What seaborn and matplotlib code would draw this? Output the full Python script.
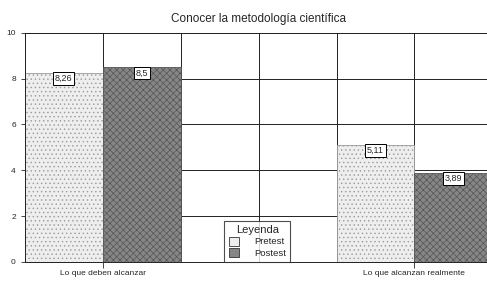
import matplotlib
matplotlib.use("Agg")
import matplotlib.pyplot as plt
import seaborn as sns
import pandas as pd

categorias = ["Lo que deben alcanzar", "Lo que alcanzan realmente"]
pretest = [8.26, 5.11]
postest = [8.5, 3.89]
grupos = ["Pretest", "Postest"]
etiquetas = {8.26: "8,26", 8.5: "8,5", 5.11: "5,11", 3.89: "3,89"}

df = pd.DataFrame({
    "categoria": categorias * 2,
    "grupo": [grupos[0]] * 2 + [grupos[1]] * 2,
    "valor": pretest + postest,
})

sns.set_style("white")
plt.rcParams["font.family"] = ["Liberation Sans", "DejaVu Sans"]
plt.rcParams["hatch.linewidth"] = 0.5

fig = plt.figure(figsize=(4.87, 3.07), dpi=100)
ax = fig.add_axes([0.051, 0.147, 0.96, 0.746])

sns.barplot(data=df, x="categoria", y="valor", hue="grupo", order=categorias,
            hue_order=grupos, width=0.5, gap=0, ax=ax,
            palette=["#eeeeee", "#868686"], edgecolor="#555555", linewidth=0.6,
            saturation=1)

hatches = {"Pretest": "....", "Postest": "xxxxx"}
for cont, g in zip(ax.containers, grupos):
    for bar in cont:
        bar.set_hatch(hatches[g])
        bar.set_edgecolor("#9a9a9a" if g == "Pretest" else "#555555")
        h = bar.get_height()
        ax.text(bar.get_x() + bar.get_width() / 2, h - 0.06, etiquetas[round(h, 2)],
                ha="center", va="top", fontsize=6.5,
                bbox=dict(boxstyle="square,pad=0.2", fc="white", ec="black", lw=0.7))

ax.set_xlim(-0.25, 1.25)
ax.set_ylim(0, 10)
ax.set_yticks([0, 2, 4, 6, 8, 10])
ax.set_xticks([0, 1])
ax.set_xticklabels(categorias, fontsize=6)
ax.set_xticks([-0.25, 0.25, 0.5, 0.75, 1.25], minor=True)
ax.tick_params(axis="y", labelsize=6, length=3, direction="out", left=True, width=0.6)
ax.tick_params(axis="x", which="major", length=4, direction="out", bottom=True, width=0.6, pad=2)
ax.tick_params(axis="x", which="minor", length=0)
ax.set_axisbelow(True)
ax.grid(True, axis="y", color="#222222", lw=0.7)
ax.grid(True, axis="x", which="both", color="#222222", lw=0.7)
for s in ax.spines.values():
    s.set_color("#222222")
    s.set_linewidth(0.7)
ax.spines["right"].set_visible(False)

ax.set_xlabel("")
ax.set_ylabel("")
ax.set_title("Conocer la metodología científica", fontsize=8.5, pad=8)

leg = ax.legend(title="Leyenda", loc="lower left", bbox_to_anchor=(0.427, 0.0),
                fontsize=6.8, title_fontsize=8, frameon=True, fancybox=False,
                handlelength=1.1, handleheight=1.1, handletextpad=1.6,
                borderpad=0.45, labelspacing=0.15, borderaxespad=0)
leg.get_frame().set_edgecolor("#222222")
leg.get_frame().set_linewidth(0.8)
for h in leg.legend_handles:
    h.set_edgecolor("#333333")

fig.savefig("out.png", dpi=100)
